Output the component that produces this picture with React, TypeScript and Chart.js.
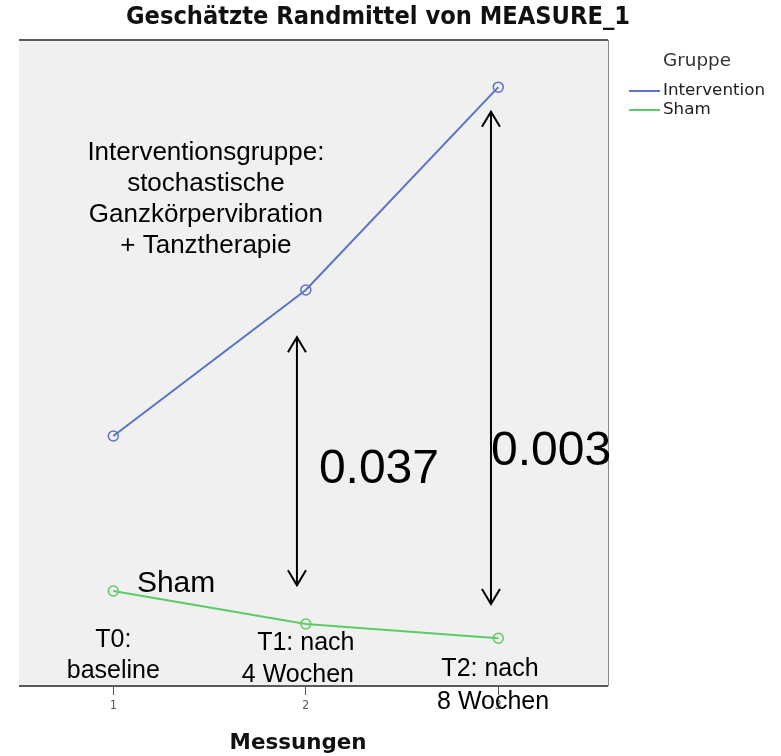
import React, { useEffect, useRef } from "react";
import { Chart, registerables } from "chart.js";

Chart.register(...registerables);

const categories = [1, 2, 3];
const tickLabels = ["1", "2", "3"];
const interventionValues = [38.7, 61.3, 92.7];
const shamValues = [14.7, 9.6, 7.4];
const seriesNames = ["Intervention", "Sham"];
const seriesColors = ["#5a72c8", "#5ccb67"];
const chartTitle = "Geschätzte Randmittel von MEASURE_1";
const axisTitle = "Messungen";
const legendTitle = "Gruppe";

// annotation texts, anchored in data units (x, y = centre of the line)
const textNotes: { text: string; x: number; y: number; size: number }[] = [
  { text: "Interventionsgruppe:", x: 1.481, y: 82.6, size: 26 },
  { text: "stochastische", x: 1.481, y: 77.8, size: 26 },
  { text: "Ganzkörpervibration", x: 1.481, y: 73.0, size: 26 },
  { text: "+ Tanztherapie", x: 1.481, y: 68.2, size: 26 },
  { text: "0.037", x: 2.38, y: 33.4, size: 48 },
  { text: "0.003", x: 3.274, y: 36.2, size: 48 },
  { text: "Sham", x: 1.326, y: 15.9, size: 30 },
  { text: "T0:", x: 1.0, y: 7.1, size: 25 },
  { text: "baseline", x: 1.0, y: 2.3, size: 25 },
  { text: "T1: nach", x: 2.0, y: 6.6, size: 25 },
  { text: "4 Wochen", x: 1.959, y: 1.7, size: 25 },
  { text: "T2: nach", x: 2.957, y: 2.6, size: 25 },
  { text: "8 Wochen", x: 2.973, y: -2.5, size: 25 },
];
// double-headed arrows [x, yFrom, yTo] in data units
const arrowNotes = [
  { x: 1.954, y1: 54.0, y2: 15.6 },
  { x: 2.962, y1: 88.9, y2: 12.7 },
];

const condensed = "'DejaVu Sans Condensed', 'Liberation Sans Narrow', 'DejaVu Sans'";

function fitText(ctx: any, text: string, x: number, y: number, width: number) {
  const w = ctx.measureText(text).width;
  ctx.save();
  ctx.translate(x, y);
  ctx.scale(width / w, 1);
  ctx.fillText(text, 0, 0);
  ctx.restore();
}

const decorPlugin = {
  id: "decor",
  beforeDraw(chart: any) {
    const { ctx, chartArea: a } = chart;
    ctx.save();
    ctx.fillStyle = "#ffffff";
    ctx.fillRect(0, 0, chart.width, chart.height);
    ctx.fillStyle = "#f0f0f0";
    ctx.fillRect(a.left, a.top, a.right - a.left, a.bottom - a.top);
    ctx.restore();
  },
  afterDraw(chart: any) {
    const { ctx, chartArea: a } = chart;
    const xs = chart.scales.x;
    const ys = chart.scales.y;
    ctx.save();
    // frame
    ctx.strokeStyle = "#5a5a5a";
    ctx.lineWidth = 2;
    ctx.beginPath();
    ctx.moveTo(a.left, a.top);
    ctx.lineTo(a.right, a.top);
    ctx.moveTo(a.left, a.bottom);
    ctx.lineTo(a.right, a.bottom);
    ctx.stroke();
    ctx.strokeStyle = "#8a8a8a";
    ctx.lineWidth = 1;
    ctx.beginPath();
    ctx.moveTo(a.right + 0.5, a.top);
    ctx.lineTo(a.right + 0.5, a.bottom);
    ctx.stroke();

    // title
    ctx.fillStyle = "#111";
    ctx.textAlign = "center";
    ctx.textBaseline = "middle";
    ctx.font = `bold 24px ${condensed}`;
    fitText(ctx, chartTitle, 378, 18, 504);
    // axis title
    ctx.font = `bold 21px ${condensed}`;
    fitText(ctx, axisTitle, xs.getPixelForValue(1.96), 744, 137);

    // legend
    ctx.fillStyle = "#333";
    ctx.font = "17px 'DejaVu Sans'";
    fitText(ctx, legendTitle, 697, 62, 68);
    ctx.textAlign = "left";
    ctx.font = "15px 'DejaVu Sans'";
    const sx = 102 / ctx.measureText(seriesNames[0]).width;
    seriesNames.forEach((name, i) => {
      const y = 91 + i * 19;
      ctx.strokeStyle = seriesColors[i];
      ctx.lineWidth = 2;
      ctx.beginPath();
      ctx.moveTo(629, y);
      ctx.lineTo(660, y);
      ctx.stroke();
      ctx.fillStyle = "#222";
      ctx.save();
      ctx.translate(663, y);
      ctx.scale(sx, 1);
      ctx.fillText(name, 0, 0);
      ctx.restore();
    });

    // text notes
    ctx.fillStyle = "#000";
    ctx.textAlign = "center";
    textNotes.forEach((n) => {
      ctx.font = `${n.size}px 'Liberation Sans', Arial, sans-serif`;
      ctx.fillText(n.text, xs.getPixelForValue(n.x), ys.getPixelForValue(n.y));
    });

    // arrows
    ctx.strokeStyle = "#000";
    ctx.lineWidth = 2;
    arrowNotes.forEach((ar) => {
      const x = xs.getPixelForValue(ar.x);
      const y1 = ys.getPixelForValue(ar.y1);
      const y2 = ys.getPixelForValue(ar.y2);
      ctx.beginPath();
      ctx.moveTo(x, y1);
      ctx.lineTo(x, y2);
      ctx.moveTo(x - 9, y1 + 15);
      ctx.lineTo(x, y1);
      ctx.lineTo(x + 9, y1 + 15);
      ctx.moveTo(x - 9, y2 - 15);
      ctx.lineTo(x, y2);
      ctx.lineTo(x + 9, y2 - 15);
      ctx.stroke();
    });
    ctx.restore();
  },
};

export default function App() {
  const ref = useRef<HTMLCanvasElement | null>(null);
  useEffect(() => {
    document.body.style.margin = "0";
    if (!ref.current) return;
    const mk = (vals: number[]) => categories.map((c, i) => ({ x: c, y: vals[i] }));
    const ds = (i: number, vals: number[]) => ({
      label: seriesNames[i],
      data: mk(vals),
      borderColor: seriesColors[i],
      backgroundColor: "transparent",
      pointBorderColor: seriesColors[i],
      pointBackgroundColor: "transparent",
      borderWidth: 2,
      pointRadius: 5,
      pointBorderWidth: 1.5,
      tension: 0,
    });
    const chart = new Chart(ref.current, {
      type: "line",
      data: { datasets: [ds(0, interventionValues), ds(1, shamValues)] },
      options: {
        animation: false,
        responsive: false,
        layout: { padding: { top: 40, left: 19, right: 173, bottom: 0 } },
        plugins: { legend: { display: false }, title: { display: false }, tooltip: { enabled: false } },
        scales: {
          x: {
            type: "linear",
            min: 0.51,
            max: 3.57,
            afterBuildTicks: (s: any) => {
              s.ticks = categories.map((v) => ({ value: v }));
            },
            afterFit: (s: any) => {
              s.height = 70;
            },
            ticks: {
              callback: (v: any) => tickLabels[categories.indexOf(Number(v))] ?? "",
              font: { size: 12, family: "'DejaVu Sans Condensed', 'DejaVu Sans'" },
              color: "#555",
              padding: 4,
              maxRotation: 0,
            },
            grid: { drawOnChartArea: false, drawTicks: true, tickLength: 9, color: "#555", lineWidth: 1 },
            border: { display: false },
          },
          y: { type: "linear", min: 0, max: 100, display: false },
        },
      },
      plugins: [decorPlugin],
    });
    return () => chart.destroy();
  }, []);
  return <canvas ref={ref} width={781} height={756} style={{ display: "block" }} />;
}
